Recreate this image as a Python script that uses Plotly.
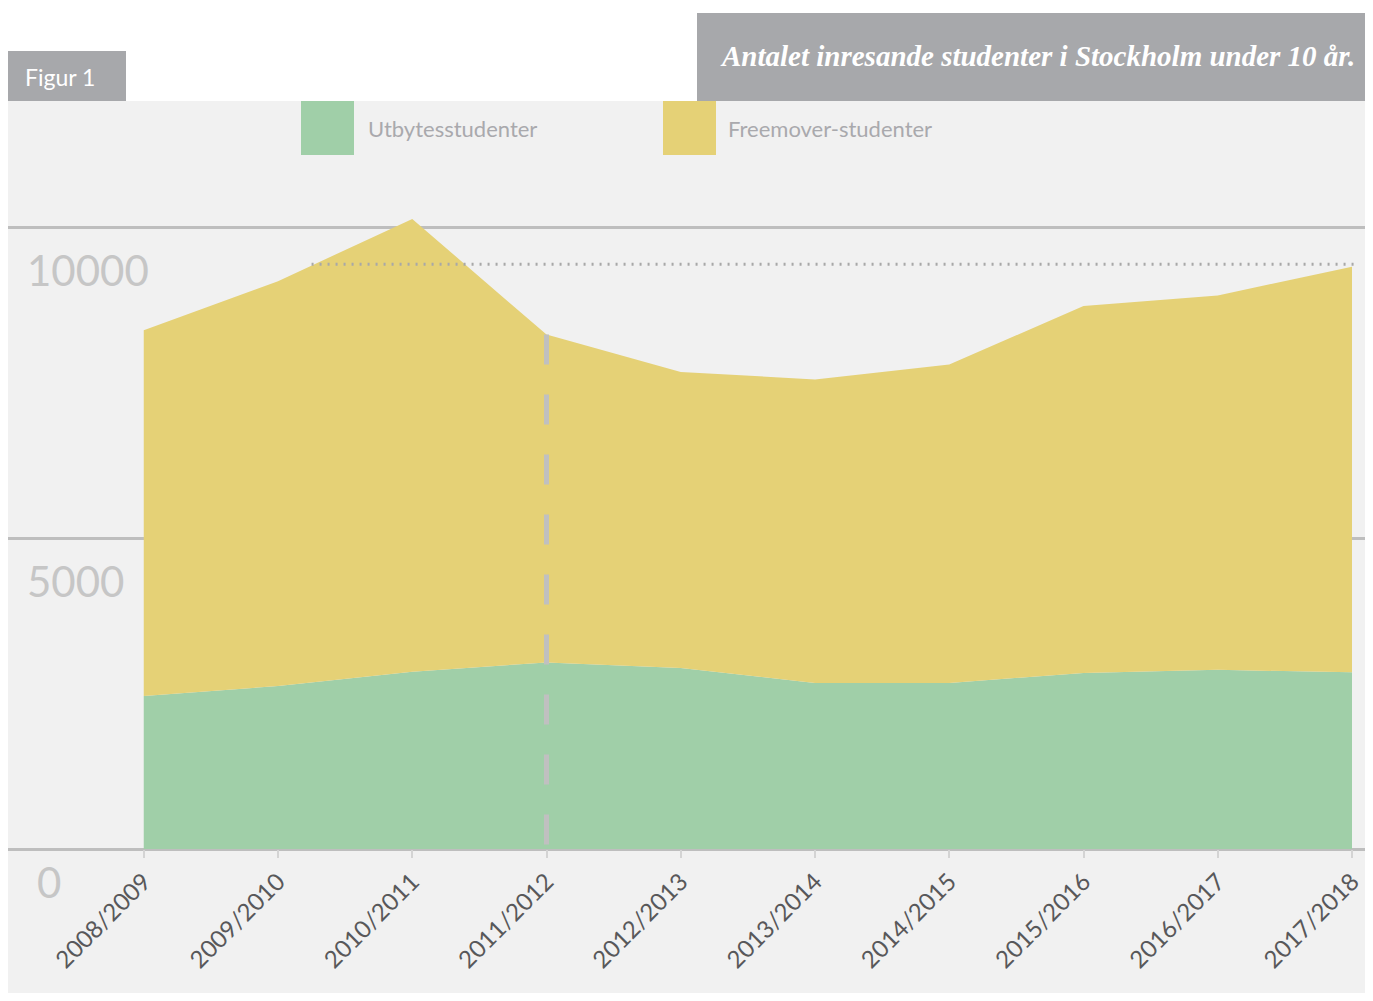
import plotly.graph_objects as go

# Läsår och antal inresande studenter
years = ["2008/2009", "2009/2010", "2010/2011", "2011/2012", "2012/2013",
         "2013/2014", "2014/2015", "2015/2016", "2016/2017", "2017/2018"]
utbyte = [2460, 2620, 2850, 3000, 2910, 2670, 2670, 2830, 2880, 2840]
freemover = [5880, 6510, 7280, 5270, 4760, 4880, 5120, 5900, 6020, 6520]
y_ticks = [0, 5000, 10000]
reference_level = 9400
marked_year = "2011/2012"

GREEN = "#a0cfa8"
YELLOW = "#e5d176"
HEADER_GRAY = "#a7a8ab"
BG = "#f1f1f1"

# sidan har 8px marginal runt figuren
OFF = 8
W, H = 1365, 985
L, R, T, B = 0, 0, 93, 0


def px_x(p):
    return (p - OFF - L) / (W - L - R)


def px_y(p):
    return (H - B - (p - OFF)) / (H - T - B)


fig = go.Figure()
fig.add_trace(go.Scatter(
    x=years, y=utbyte, name="Utbytesstudenter", stackgroup="one",
    mode="lines", line=dict(width=0, color=GREEN), fillcolor=GREEN,
    showlegend=False,
))
fig.add_trace(go.Scatter(
    x=years, y=freemover, name="Freemover-studenter", stackgroup="one",
    mode="lines", line=dict(width=0, color=YELLOW), fillcolor=YELLOW,
    showlegend=False,
))

totals = [u + f for u, f in zip(utbyte, freemover)]
mi = years.index(marked_year)

shapes = [
    # streckad markering vid 2011/2012
    dict(type="line", xref="x", yref="y", x0=mi, x1=mi, y0=totals[mi], y1=0,
         line=dict(color="#c0c0c0", width=5, dash="30px,30px"), layer="above"),
    # prickad referenslinje
    dict(type="line", xref="x", yref="y", x0=1.25, x1=9.04,
         y0=reference_level, y1=reference_level,
         line=dict(color="#a8a8a8", width=3, dash="2px,6px"), layer="above"),
    # rubrikrutor
    dict(type="rect", xref="paper", yref="paper", x0=px_x(8), x1=px_x(126),
         y0=px_y(101), y1=px_y(51), fillcolor=HEADER_GRAY, line_width=0),
    dict(type="rect", xref="paper", yref="paper", x0=px_x(697), x1=px_x(1373),
         y0=px_y(101), y1=px_y(13), fillcolor=HEADER_GRAY, line_width=0),
    # teckenförklaring
    dict(type="rect", xref="paper", yref="paper", x0=px_x(301), x1=px_x(354),
         y0=px_y(155), y1=px_y(101), fillcolor=GREEN, line_width=0),
    dict(type="rect", xref="paper", yref="paper", x0=px_x(663), x1=px_x(716),
         y0=px_y(155), y1=px_y(101), fillcolor=YELLOW, line_width=0),
]

annotations = [
    dict(text="Figur 1", xref="paper", yref="paper", x=px_x(23), y=px_y(77),
         xanchor="left", yanchor="middle", showarrow=False,
         font=dict(family="Lato", size=23, color="white")),
    dict(text="<b><i>Antalet inresande studenter i Stockholm under 10 år.</i></b>",
         xref="paper", yref="paper", x=px_x(1357), y=px_y(56),
         xanchor="right", yanchor="middle", showarrow=False,
         font=dict(family="Liberation Serif", size=29, color="white")),
    dict(text="Utbytesstudenter", xref="paper", yref="paper", x=px_x(366),
         y=px_y(129), xanchor="left", yanchor="middle", showarrow=False,
         font=dict(family="Lato", size=22, color="#a9a9ad")),
    dict(text="Freemover-studenter", xref="paper", yref="paper", x=px_x(726),
         y=px_y(129), xanchor="left", yanchor="middle", showarrow=False,
         font=dict(family="Lato", size=22, color="#a9a9ad")),
]

# y-etiketter under stödlinjerna
for v in y_ticks:
    annotations.append(dict(
        text=str(v), xref="paper", yref="y",
        x=px_x(35 if v == 0 else 25), y=v,
        xanchor="left", yanchor="middle", yshift=-33 if v == 0 else -43,
        showarrow=False,
        font=dict(family="Lato", size=42, color="#c6c6c6"),
    ))

fig.update_layout(
    width=W, height=H,
    margin=dict(l=L, r=R, t=T, b=B, pad=0),
    paper_bgcolor="white",
    plot_bgcolor=BG,
    shapes=shapes,
    annotations=annotations,
    showlegend=False,
    xaxis=dict(
        type="category",
        range=[-1.0112, 9.1564],
        anchor="free",
        position=px_y(849),
        showgrid=False, zeroline=False, showline=False,
        ticks="outside", ticklen=8, tickwidth=2, tickcolor="#d4d4d4",
        tickangle=-45,
        tickfont=dict(family="Lato", size=24, color="#58585a"),
    ),
    yaxis=dict(
        range=[-2315.1, 12026],
        tickvals=y_ticks,
        showticklabels=False,
        showgrid=True, gridcolor="#bebebe", gridwidth=2.5,
        zeroline=False, showline=False, ticks="",
    ),
)

fig.write_html("out.html")
